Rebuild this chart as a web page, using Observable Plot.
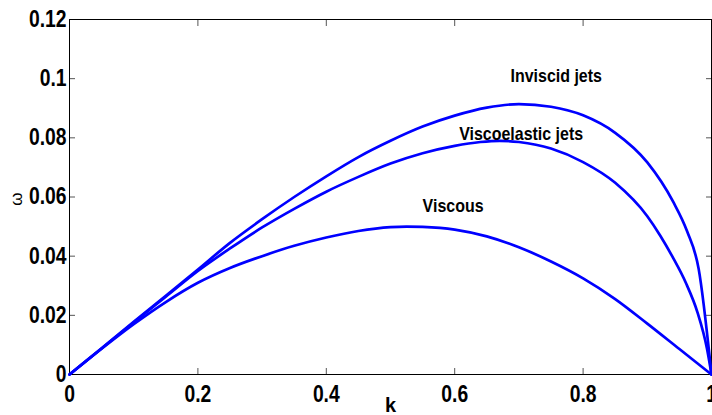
<!DOCTYPE html>
<html>
<head>
<meta charset="utf-8">
<script src="https://cdn.jsdelivr.net/npm/d3@7"></script>
<script src="https://cdn.jsdelivr.net/npm/@observablehq/plot@0.6"></script>
<style>
  html, body { margin: 0; padding: 0; background: #fff; }
  #chart svg { display: block; }
</style>
</head>
<body>
<div id="chart"></div>
<script>
// Inviscid jets
const kInv = [0, 0.05, 0.1, 0.15, 0.2, 0.25, 0.3, 0.35, 0.4, 0.45, 0.5, 0.55, 0.6, 0.65, 0.7, 0.75, 0.8, 0.85, 0.9, 0.94, 0.962, 0.98, 1];
const wInv = [0, 0.0089, 0.0178, 0.0266, 0.0355, 0.0445, 0.0525, 0.0600, 0.0670, 0.0735, 0.0790, 0.0838, 0.0875, 0.0902, 0.0914, 0.0905, 0.0876, 0.0817, 0.0717, 0.0585, 0.0484, 0.0357, 0];
// Viscoelastic jets
const kVe = [0, 0.05, 0.1, 0.15, 0.2, 0.25, 0.3, 0.35, 0.4, 0.45, 0.5, 0.55, 0.6, 0.64, 0.67, 0.7, 0.75, 0.8, 0.85, 0.9, 0.92, 0.94, 0.96, 0.978, 0.993, 1];
const wVe = [0, 0.0088, 0.0176, 0.0263, 0.0350, 0.0426, 0.0497, 0.0560, 0.0618, 0.0668, 0.0713, 0.0748, 0.0773, 0.0786, 0.0790, 0.0786, 0.0764, 0.0718, 0.0648, 0.0535, 0.0470, 0.0395, 0.0310, 0.0211, 0.0087, 0];
// Viscous
const kVs = [0, 0.05, 0.1, 0.15, 0.2, 0.25, 0.3, 0.35, 0.4, 0.45, 0.5, 0.525, 0.55, 0.6, 0.65, 0.7, 0.75, 0.8, 0.85, 0.9, 0.95, 1];
const wVs = [0, 0.0087, 0.0170, 0.0245, 0.0310, 0.0360, 0.0400, 0.0435, 0.0463, 0.0485, 0.0498, 0.0500, 0.0499, 0.0490, 0.0467, 0.0430, 0.0382, 0.0325, 0.0255, 0.0172, 0.0086, 0];

const xTicks = [0, 0.2, 0.4, 0.6, 0.8, 1];
const yTicks = [0, 0.02, 0.04, 0.06, 0.08, 0.1, 0.12];

const labelNames = ["Inviscid jets", "Viscoelastic jets", "Viscous"];
const labelK = [0.687, 0.607, 0.55];
const labelW = [0.101, 0.0814, 0.0571];

const toRows = (ks, ws) => ks.map((k, i) => ({k, w: ws[i]}));
const series = [toRows(kInv, wInv), toRows(kVe, wVe), toRows(kVs, wVs)];
const labels = labelNames.map((name, i) => ({name, k: labelK[i], w: labelW[i]}));

const font = "'Liberation Sans', Arial, Helvetica, sans-serif";
const fmt = d3.format("~g");

const chart = Plot.plot({
  width: 712,
  height: 415,
  marginLeft: 69,
  marginRight: 1,
  marginTop: 19,
  marginBottom: 41,
  style: { fontFamily: font, background: "#fff", overflow: "visible" },
  x: { domain: [0, 1] },
  y: { domain: [0, 0.12] },
  marks: [
    // inward ticks
    Plot.axisX(xTicks, { anchor: "bottom", tickSize: -6, tickFormat: () => "", stroke: "#555", label: null }),
    Plot.axisX(xTicks, { anchor: "top", tickSize: -6, tickFormat: () => "", stroke: "#555", label: null }),
    Plot.axisY(yTicks, { anchor: "left", tickSize: -6, tickFormat: () => "", stroke: "#555", label: null }),
    Plot.axisY(yTicks, { anchor: "right", tickSize: -6, tickFormat: () => "", stroke: "#555", label: null }),
    // tick labels
    Plot.axisX(xTicks, { anchor: "bottom", tickSize: 0, tickPadding: 11, tickFormat: fmt, fontSize: 23, fontWeight: "bold", fill: "#000", label: null }),
    Plot.axisY(yTicks, { anchor: "left", tickSize: 0, tickPadding: 3, tickFormat: fmt, fontSize: 23, fontWeight: "bold", fill: "#000", label: null }),
    Plot.frame({ stroke: "#000", strokeWidth: 1 }),
    ...series.map(rows => Plot.line(rows, { x: "k", y: "w", stroke: "#0000ff", strokeWidth: 2.7, curve: "monotone-x" })),
    Plot.text(labels, { x: "k", y: "w", text: "name", textAnchor: "start", lineAnchor: "middle", fontSize: 19, fontWeight: "bold", fill: "#000" }),
    Plot.text(["ω"], { frameAnchor: "left", dx: -53, dy: 2, rotate: -90, textAnchor: "middle", lineAnchor: "middle", fontSize: 17, fill: "#000" }),
    Plot.text(["k"], { frameAnchor: "bottom", dy: 37, lineAnchor: "bottom", fontSize: 20, fontWeight: "bold", fill: "#000" })
  ]
});

document.getElementById("chart").appendChild(chart);

// condense the bold labels horizontally, like the narrow face of the original
d3.select(chart).selectAll("text").each(function () {
  const s = this.textContent.trim();
  if (s === "ω" || s === "k" || s === "") return;
  const len = this.getComputedTextLength();
  if (len > 0) {
    this.setAttribute("textLength", (len * 0.84).toFixed(2));
    this.setAttribute("lengthAdjust", "spacingAndGlyphs");
  }
});
</script>
</body>
</html>
